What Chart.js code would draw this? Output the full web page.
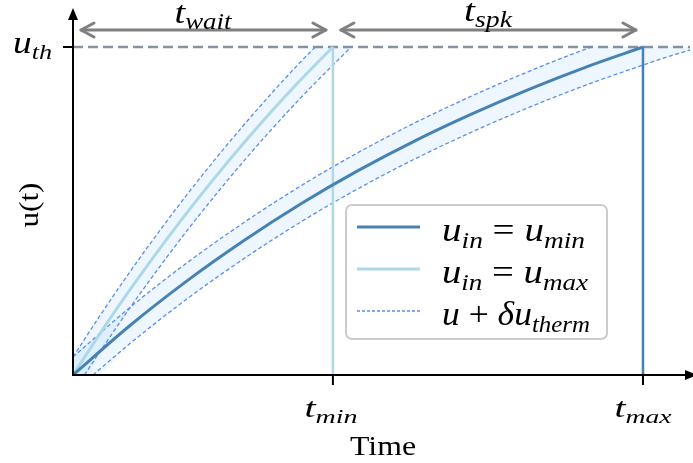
<!DOCTYPE html>
<html lang="en">
<head>
<meta charset="UTF-8">
<title>Charging time</title>
<style>
  * { margin: 0; padding: 0; }
  body { background: #fff; }
</style>
</head>
<body>
<canvas id="myChart" width="693" height="463"></canvas>
<script src="https://cdn.jsdelivr.net/npm/chart.js@4.4.0/dist/chart.umd.min.js"></script>
<script>
  // values (time in units of t_max, voltage in units of u_th)
  const tMin = 0.456;
  const tMax = 1.0;
  const uTh = 1.0;
  const tEnd = 1.0825;
  const uTop = 1.119;
  const arrowLevel = 1.052;

  // u_in = u_min (slow curve)
  const slowT = [0, 0.1, 0.2, 0.3, 0.4, 0.5, 0.6, 0.7, 0.8, 0.9, 1.0];
  const slowU = [0, 0.151, 0.287, 0.410, 0.522, 0.623, 0.714, 0.796, 0.871, 0.939, 1.0];
  // u_in = u_max (fast curve)
  const fastT = [0, 0.05, 0.1, 0.15, 0.2, 0.25, 0.3, 0.35, 0.4, 0.456];
  const fastU = [0, 0.133, 0.260, 0.380, 0.495, 0.604, 0.708, 0.807, 0.901, 1.0];

  // thermal noise band edges
  const slowUpT = [0, 0.1, 0.2, 0.3, 0.4, 0.5, 0.6, 0.7, 0.8, 0.9, 0.91];
  const slowUpU = [0.055, 0.206, 0.342, 0.465, 0.577, 0.678, 0.769, 0.851, 0.926, 0.994, 1.0];
  const slowLoT = [0.035, 0.1, 0.2, 0.3, 0.4, 0.5, 0.6, 0.7, 0.8, 0.9, 1.0, 1.05, 1.0825];
  const slowLoU = [0, 0.096, 0.232, 0.355, 0.467, 0.568, 0.659, 0.741, 0.816, 0.884, 0.945, 0.974, 0.991];
  const fastUpT = [0, 0.05, 0.1, 0.15, 0.2, 0.25, 0.3, 0.35, 0.4, 0.425];
  const fastUpU = [0.055, 0.188, 0.315, 0.435, 0.550, 0.659, 0.763, 0.862, 0.956, 1.0];
  const fastLoT = [0.02, 0.05, 0.1, 0.15, 0.2, 0.25, 0.3, 0.35, 0.4, 0.456, 0.488];
  const fastLoU = [0, 0.078, 0.205, 0.325, 0.440, 0.549, 0.653, 0.752, 0.846, 0.945, 1.0];

  const dark = '#4682b4';
  const light = '#add8e6';
  const noise = '#5b8def';
  const bandFill = 'rgba(30,144,255,0.075)';
  const FONT = '"Liberation Serif", serif';

  const pts = (xs, ys) => xs.map((x, i) => ({ x: x, y: ys[i] }));

  function line(data, color, width, dash) {
    return {
      data: data, borderColor: color, borderWidth: width, borderDash: dash || [],
      pointRadius: 0, fill: false, cubicInterpolationMode: 'monotone'
    };
  }
  function bandEdge(data, fill) {
    return {
      data: data, borderWidth: 0, borderColor: 'transparent', pointRadius: 0,
      backgroundColor: bandFill, fill: fill, cubicInterpolationMode: 'monotone'
    };
  }

  // runs: [text, kind] kind i = italic, r = roman, s = subscript
  function mathText(ctx, runs, x, y, size, width, align) {
    const fontOf = k => k === 's' ? 'italic ' + (size * 0.7) + 'px ' + FONT
      : (k === 'r' ? size + 'px ' + FONT : 'italic ' + size + 'px ' + FONT);
    let w = 0;
    const ws = runs.map(r => { ctx.font = fontOf(r[1]); const m = ctx.measureText(r[0]).width; w += m; return m; });
    const sx = width ? width / w : 1;
    ctx.save();
    ctx.translate(x, y);
    ctx.scale(sx, 1);
    ctx.fillStyle = '#000';
    ctx.textBaseline = 'alphabetic';
    ctx.textAlign = 'left';
    let cx = align === 'center' ? -w / 2 : (align === 'right' ? -w : 0);
    runs.forEach((r, i) => {
      ctx.font = fontOf(r[1]);
      ctx.fillText(r[0], cx, r[1] === 's' ? size * 0.2 : 0);
      cx += ws[i];
    });
    ctx.restore();
  }

  function openHead(ctx, x, y, dir) {
    ctx.beginPath();
    ctx.moveTo(x - dir * 13, y - 7);
    ctx.lineTo(x, y);
    ctx.lineTo(x - dir * 13, y + 7);
    ctx.stroke();
  }

  const decor = {
    id: 'decor',
    afterDatasetsDraw(chart) {
      const ctx = chart.ctx;
      const xs = chart.scales.x, ys = chart.scales.y;
      const x0 = xs.getPixelForValue(0), y0 = ys.getPixelForValue(0);
      const yTh = ys.getPixelForValue(uTh);
      const pMin = xs.getPixelForValue(tMin), pMax = xs.getPixelForValue(tMax);

      // axes with arrow heads
      ctx.save();
      ctx.strokeStyle = '#000';
      ctx.fillStyle = '#000';
      ctx.lineWidth = 2;
      ctx.beginPath();
      ctx.moveTo(x0, y0 + 1); ctx.lineTo(x0, 16);
      ctx.moveTo(x0 - 1, y0); ctx.lineTo(688, y0);
      ctx.stroke();
      ctx.beginPath();
      ctx.moveTo(x0, 8); ctx.lineTo(x0 - 5, 20); ctx.lineTo(x0 + 5, 20); ctx.closePath();
      ctx.moveTo(697, y0); ctx.lineTo(685, y0 - 5); ctx.lineTo(685, y0 + 5); ctx.closePath();
      ctx.fill();
      // ticks
      ctx.beginPath();
      ctx.moveTo(x0 - 10, yTh); ctx.lineTo(x0, yTh);
      ctx.moveTo(pMin, y0); ctx.lineTo(pMin, y0 + 10);
      ctx.moveTo(pMax, y0); ctx.lineTo(pMax, y0 + 10);
      ctx.stroke();

      // interval arrows
      const ya = ys.getPixelForValue(arrowLevel);
      ctx.strokeStyle = '#808080';
      ctx.lineWidth = 3;
      ctx.lineCap = 'round';
      ctx.lineJoin = 'round';
      [[x0 + 8, pMin - 7], [pMin + 8, pMax - 7]].forEach(s => {
        ctx.beginPath(); ctx.moveTo(s[0], ya); ctx.lineTo(s[1], ya); ctx.stroke();
        openHead(ctx, s[0], ya, -1);
        openHead(ctx, s[1], ya, 1);
      });
      ctx.restore();

      // labels
      mathText(ctx, [['t', 'i'], ['wait', 's']], (x0 + pMin) / 2, ya - 7, 32, 57, 'center');
      mathText(ctx, [['t', 'i'], ['spk', 's']], (pMin + pMax) / 2, ya - 9, 32, 48, 'center');
      mathText(ctx, [['u', 'i'], ['th', 's']], 52, yTh + 6, 31, 39, 'right');
      mathText(ctx, [['t', 'i'], ['min', 's']], pMin - 2, 417, 28, 53, 'center');
      mathText(ctx, [['t', 'i'], ['max', 's']], pMax, 417, 28, 57, 'center');
      mathText(ctx, [['Time', 'r']], 383, 455, 27, 66, 'center');
      ctx.save();
      ctx.translate(38, 205);
      ctx.rotate(-Math.PI / 2);
      mathText(ctx, [['u(t)', 'r']], 0, 0, 28, 45, 'center');
      ctx.restore();

      // legend
      ctx.save();
      ctx.fillStyle = 'rgba(255,255,255,0.85)';
      ctx.strokeStyle = '#cccccc';
      ctx.lineWidth = 2;
      ctx.beginPath();
      ctx.roundRect(346, 205, 261, 134, 6);
      ctx.fill();
      ctx.stroke();
      const rows = [
        { y: 227, color: dark, w: 3, dash: [], runs: [['u', 'i'], ['in', 's'], [' = ', 'r'], ['u', 'i'], ['min', 's']], tw: 143 },
        { y: 269, color: light, w: 3, dash: [], runs: [['u', 'i'], ['in', 's'], [' = ', 'r'], ['u', 'i'], ['max', 's']], tw: 146 },
        { y: 311, color: noise, w: 1.3, dash: [3, 2], runs: [['u', 'i'], [' + ', 'r'], ['\u03b4u', 'i'], ['therm', 's']], tw: 148 }
      ];
      rows.forEach(r => {
        ctx.strokeStyle = r.color;
        ctx.lineWidth = r.w;
        ctx.setLineDash(r.dash);
        ctx.beginPath(); ctx.moveTo(357, r.y); ctx.lineTo(420, r.y); ctx.stroke();
        mathText(ctx, r.runs, 442, r.y + 14, 33, r.tw, 'left');
      });
      ctx.restore();
    }
  };

  new Chart('myChart', {
    type: 'line',
    data: {
      datasets: [
        line(pts(slowT, slowU), dark, 3),
        line(pts(fastT, fastU), light, 3),
        line(pts([tMax, tMax], [0, uTh]), dark, 2.5),
        line(pts([tMin, tMin], [0, uTh]), light, 2.5),
        line(pts(slowUpT, slowUpU), noise, 1.3, [4, 2.5]),
        line(pts(slowLoT, slowLoU), noise, 1.3, [4, 2.5]),
        line(pts(fastUpT, fastUpU), noise, 1.3, [4, 2.5]),
        line(pts(fastLoT, fastLoU), noise, 1.3, [4, 2.5]),
        line(pts([0, tEnd], [uTh, uTh]), 'rgba(112,128,144,0.85)', 2.5, [10, 5]),
        bandEdge(pts(slowUpT.concat([tEnd]), slowUpU.concat([uTh])), '+1'),
        bandEdge(pts([0].concat(slowLoT), [0].concat(slowLoU)), false),
        bandEdge(pts(fastUpT.concat([0.488]), fastUpU.concat([uTh])), '+1'),
        bandEdge(pts([0].concat(fastLoT), [0].concat(fastLoU)), false)
      ]
    },
    options: {
      responsive: false,
      animation: false,
      layout: { padding: { left: 73, top: 8, right: 3, bottom: 88 } },
      scales: {
        x: { type: 'linear', min: 0, max: tEnd, display: false },
        y: { type: 'linear', min: 0, max: uTop, display: false }
      },
      plugins: {
        legend: { display: false },
        tooltip: { enabled: false },
        filler: { drawTime: 'beforeDatasetsDraw' }
      }
    },
    plugins: [decor]
  });
</script>
</body>
</html>
